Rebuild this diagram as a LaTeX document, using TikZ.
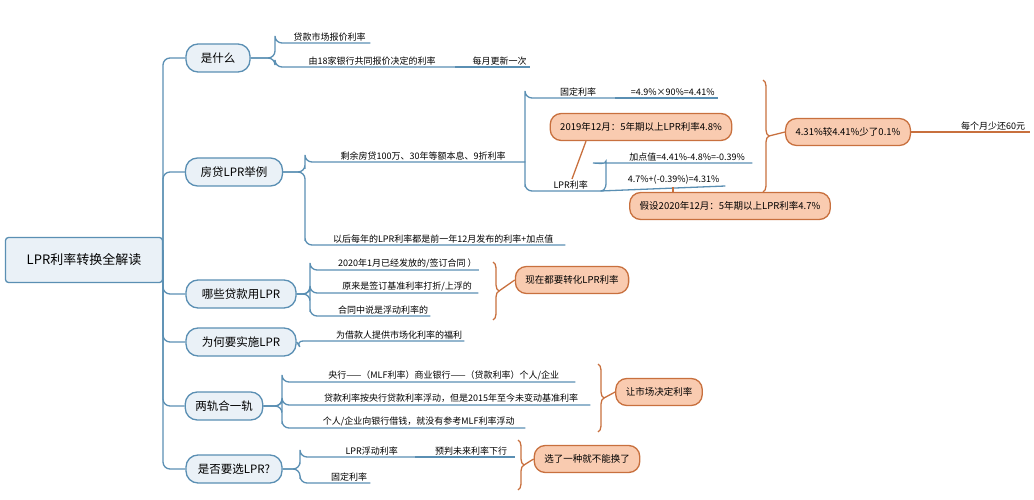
\documentclass[tikz,border=0pt]{standalone}
\usepackage{fontspec}
\setmainfont{Noto Sans CJK SC}
\usetikzlibrary{decorations.pathreplacing}
\definecolor{bl}{HTML}{5A8FB3}
\definecolor{bfill}{HTML}{EAF1F7}
\definecolor{ofill}{HTML}{F9CBB0}
\definecolor{obd}{HTML}{C8703E}
\begin{document}
\begin{tikzpicture}[x=1pt,y=-1pt,
  conn/.style={draw=bl,line width=1.3pt,rounded corners=7pt},
  oconn/.style={draw=obd,line width=1.3pt},
  rootbox/.style={draw=bl,line width=1.3pt,fill=bfill,rounded corners=3pt,minimum width=157pt,minimum height=45pt,font=\fontsize{13}{15}\selectfont},
  branch/.style={draw=bl,line width=1.3pt,fill=bfill,rounded corners=12pt,minimum height=28pt,inner xsep=10pt,font=\fontsize{11.5}{13}\selectfont},
  obox/.style={draw=obd,line width=1.3pt,fill=ofill,rounded corners=11pt,minimum height=27pt,inner xsep=10pt,font=\fontsize{9.5}{11}\selectfont},
  leaf/.style={anchor=south west,inner sep=2pt,text height=8pt,align=left,font=\fontsize{9}{10}\selectfont},
  brc/.style={draw=obd,line width=1.3pt,decorate,decoration={brace,amplitude=6pt}}]
\useasboundingbox (0,0) rectangle (1034,500);
% root
\node[rootbox] (root) at (84,260) {LPR利率转换全解读};
\coordinate (trunk) at (163,250);
% branches
\node[branch,minimum width=64pt] (b1) at (218,58) {是什么};
\node[branch,minimum width=97pt] (b2) at (234,172) {房贷LPR举例};
\node[branch,minimum width=110pt] (b3) at (241,294) {哪些贷款用LPR};
\node[branch,minimum width=110pt] (b4) at (241,342) {为何要实施LPR};
\node[branch,minimum width=76pt] (b5) at (224,406) {两轨合一轨};
\node[branch,minimum width=96pt] (b6) at (234,469) {是否要选LPR?};
\foreach \b in {b1,b2,b3,b4,b5,b6}{\draw[conn] (trunk) |- (\b.west);}
% b1 leaves
\node[leaf,minimum width=95pt] (l11) at (275,43) {\hspace{14pt}贷款市场报价利率};
\node[leaf,minimum width=180pt] (l12) at (275,67) {\hspace{14pt}由18家银行共同报价决定的利率};
\node[leaf,minimum width=75pt] (l13) at (455,67) {\hspace{14pt}每月更新一次};
\foreach \l in {l11,l12}{\draw[conn] (b1.east) -- (275,58) |- (\l.south west) -- (\l.south east);}
\draw[conn] (l12.south east) -- (l13.south east);
% b2 leaves
\node[leaf,minimum width=220pt] (l21) at (305,162) {\hspace{16pt}剩余房贷100万、30年等额本息、9折利率};
\node[leaf,minimum width=260pt] (l22) at (305,245) {\hspace{16pt}以后每年的LPR利率都是前一年12月发布的利率+加点值};
\foreach \l in {l21,l22}{\draw[conn] (b2.east) -- (305,172) |- (\l.south west) -- (\l.south east);}
\node[leaf,minimum width=90pt] (f1) at (525,98) {\hspace{16pt}固定利率};
\node[leaf,minimum width=103pt] (f2) at (615,98) {\hspace{12pt}=4.9\%×90\%=4.41\%};
\node[leaf,minimum width=75pt] (p1) at (525,191) {\hspace{16pt}LPR利率};
\foreach \l in {f1,p1}{\draw[conn] (l21.south east) ++(0,0) (525,162) |- (\l.south west) -- (\l.south east);}
\draw[conn] (f1.south east) -- (f2.south east);
\node[leaf,minimum width=152pt] (p2) at (600,163) {\hspace{22pt}加点值=4.41\%-4.8\%=-0.39\%};
\node[leaf,minimum width=125pt] (p3) at (600,186) {\hspace{22pt}4.7\%+(-0.39\%)=4.31\%};
\draw[conn] (p1.south east) to[out=0,in=-90] (606,175) -- (606,168) to[out=90,in=180] (p2.south west) -- (p2.south east);
\draw[conn] (p1.south east) -- (p3.south east);
\node[obox] (o1) at (641,127) {2019年12月：5年期以上LPR利率4.8\%};
\node[obox] (o2) at (730,206) {假设2020年12月：5年期以上LPR利率4.7\%};
\draw[oconn] (o1.south) ++(-55,0) coordinate (o1s) -- (572,179);
\draw[oconn] (673,187) -- (o2.north -| 673,0);
\draw[brc] (763,80) -- (763,192) coordinate[midway,xshift=6pt] (bt1);
\node[obox] (o3) at (848,132) {4.31\%较4.41\%少了0.1\%};
\draw[oconn] (bt1) -- (o3.west);
\node[leaf,minimum width=100pt] (m1) at (930,132) {\hspace{26pt}每个月少还60元};
\draw[oconn] (o3.east) -- (m1.south west) -- (m1.south east);
% b3 leaves
\node[leaf,minimum width=165pt] (l31) at (310,270) {\hspace{26pt}2020年1月已经发放的/签订合同 ）};
\node[leaf,minimum width=168pt] (l32) at (310,293) {\hspace{26pt}原来是签订基准利率打折/上浮的};
\node[leaf,minimum width=98pt] (l33) at (310,316) {\hspace{26pt}合同中说是浮动利率的};
\foreach \l in {l31,l32,l33}{\draw[conn] (b3.east) -- (310,294) |- (\l.south west) -- (\l.south east);}
\draw[brc] (493,262) -- (493,320) coordinate[midway,xshift=6pt] (bt2);
\node[obox] (o4) at (572,280) {现在都要转化LPR利率};
\draw[oconn] (bt2) -- (o4.west);
% b4
\node[leaf,minimum width=144pt] (l41) at (296,341) {\hspace{38pt}为借款人提供市场化利率的福利};
\draw[conn] (b4.east) -- (l41.south west) -- (l41.south east);
% b5
\node[leaf,minimum width=293pt] (l51) at (282,382) {\hspace{30pt}央行——（MLF利率）商业银行——（贷款利率）个人/企业};
\node[leaf,minimum width=308pt] (l52) at (282,405) {\hspace{30pt}贷款利率按央行贷款利率浮动，但是2015年至今未变动基准利率};
\node[leaf,minimum width=243pt] (l53) at (282,428) {\hspace{30pt}个人/企业向银行借钱，就没有参考MLF利率浮动};
\foreach \l in {l51,l52,l53}{\draw[conn] (b5.east) -- (282,406) |- (\l.south west) -- (\l.south east);}
\draw[brc] (598,364) -- (598,432) coordinate[midway,xshift=6pt] (bt3);
\node[obox] (o5) at (659,392) {让市场决定利率};
\draw[oconn] (bt3) -- (o5.west);
% b6
\node[leaf,minimum width=115pt] (l61) at (300,457) {\hspace{28pt}LPR浮动利率};
\node[leaf,minimum width=100pt] (l62) at (415,457) {\hspace{12pt}预判未来利率下行};
\node[leaf,minimum width=70pt] (l63) at (300,483) {\hspace{28pt}固定利率};
\foreach \l in {l61,l63}{\draw[conn] (b6.east) -- (300,469) |- (\l.south west) -- (\l.south east);}
\draw[conn] (l61.south east) -- (l62.south east);
\draw[brc] (518,440) -- (518,490) coordinate[midway,xshift=6pt] (bt4);
\node[obox] (o6) at (587,459) {选了一种就不能换了};
\draw[oconn] (bt4) -- (o6.west);
\end{tikzpicture}
\end{document}
